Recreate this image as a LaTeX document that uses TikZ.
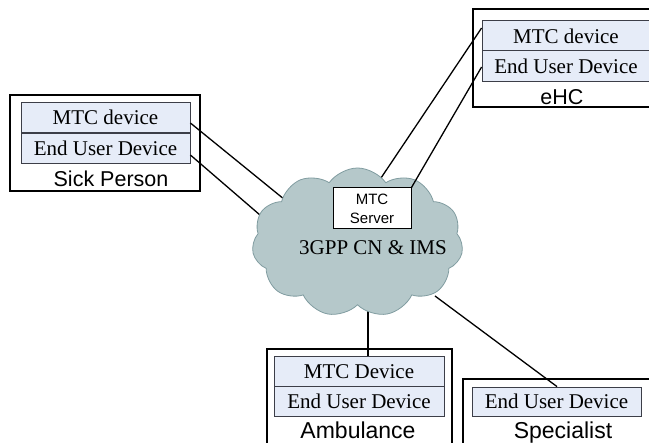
\documentclass[tikz,border=0pt]{standalone}
\usepackage{fontspec}
\setmainfont{Liberation Serif}
\newfontfamily\arialf{Liberation Sans}
\usetikzlibrary{shapes.symbols}

\definecolor{innerfill}{RGB}{230,236,248}
\definecolor{innerdraw}{RGB}{60,62,72}
\definecolor{cloudfill}{RGB}{181,200,202}
\definecolor{clouddraw}{RGB}{128,156,160}

\tikzset{
  site/.style={draw=black, line width=1.5pt, fill=white, inner sep=0pt},
  device/.style={draw=innerdraw, line width=0.8pt, fill=innerfill, inner sep=0pt,
    minimum height=30.5pt, font=\fontsize{21}{23}\selectfont},
  sitelabel/.style={inner sep=0pt, anchor=base, font=\arialf\fontsize{21.5}{23}\selectfont},
  biglabel/.style={sitelabel, font=\arialf\fontsize{23}{25}\selectfont},
  link/.style={draw=black, line width=1.3pt},
}

\begin{document}
\begin{tikzpicture}[x=1pt, y=-1pt]
\useasboundingbox (0,0) rectangle (649,443);

% Sick Person
\node[site, minimum width=190pt, minimum height=96pt] (sick) at (105,143) {};
\node[device, minimum width=169pt] (sickmtc) at (105.5,117.5) {MTC device};
\node[device, minimum width=169pt] (sickeud) at (105.5,148.5) {End User Device};
\node[sitelabel] (sicklbl) at (111,187) {Sick Person};

% eHC
\node[site, minimum width=185pt, minimum height=98pt] (ehc) at (565.5,58) {};
\node[device, minimum width=168pt] (ehcmtc) at (566,36) {MTC device};
\node[device, minimum width=168pt] (ehceud) at (566,66) {End User Device};
\node[sitelabel] (ehclbl) at (562,105) {eHC};

% Ambulance
\node[site, minimum width=185pt, minimum height=106pt] (amb) at (359.5,402) {};
\node[device, minimum width=170pt] (ambmtc) at (359,372) {MTC Device};
\node[device, minimum width=170pt] (ambeud) at (359,401.5) {End User Device};
\node[biglabel] (amblbl) at (358,438.5) {Ambulance};

% Specialist
\node[site, minimum width=197pt, minimum height=76pt] (spec) at (561.5,417) {};
\node[device, minimum width=169pt, minimum height=29pt] (speceud) at (556.5,401.5) {End User Device};
\node[biglabel] (speclbl) at (563,438.5) {Specialist};

% link ends, tucked just under the cloud outline
\coordinate (c1) at (290,204);
\coordinate (c2) at (282,234);
\coordinate (c3) at (381,178);
\coordinate (c5) at (368,305);
\coordinate (c6) at (435,296);

% links into the cloud (the cloud is drawn over their ends)
\draw[link] ([yshift=-5.5pt]sickmtc.east) -- (c1);
\draw[link] ([yshift=-6.5pt]sickeud.east) -- (c2);
\draw[link] ([yshift=8pt]ehcmtc.west) -- (c3);
\draw[link] ([xshift=9pt]ambmtc.north) -- (c5);
\draw[link] ([xshift=0.5pt]speceud.north) -- (c6);

% core network cloud with the MTC server
\node[cloud, cloud puffs=11, cloud puff arc=110, aspect=1.42,
      minimum width=211pt, minimum height=149pt, inner sep=0pt,
      fill=cloudfill, draw=clouddraw, line width=0.8pt] (cn) at (357.5,242.5) {};
\node[inner sep=0pt, font=\fontsize{21}{23}\selectfont] (cnlabel) at (373,248) {3GPP CN \& IMS};
\node[draw=black, line width=1pt, fill=white, minimum width=78pt, minimum height=41pt,
      inner sep=0pt, align=center, font=\arialf\fontsize{15}{19}\selectfont]
      (srv) at (372,208.5) {MTC\\Server};

% link from the eHC terminal to the server
\draw[link] ([yshift=-1pt]ehceud.west) -- (srv.north east);
\end{tikzpicture}
\end{document}
